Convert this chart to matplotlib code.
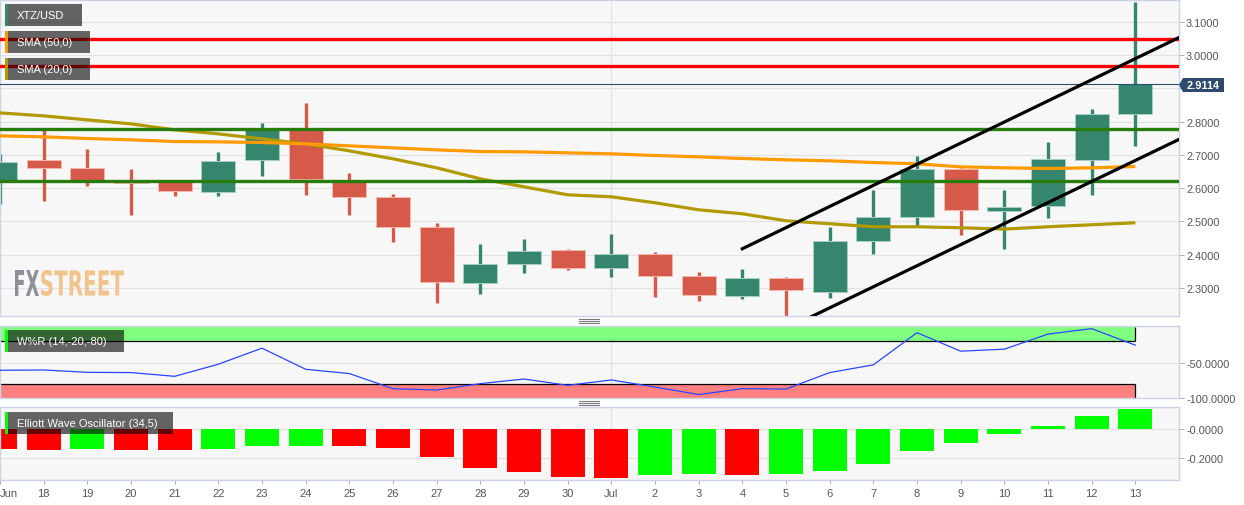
import matplotlib
matplotlib.use('Agg')
import matplotlib.pyplot as plt
import numpy as np
from matplotlib.patches import Rectangle, Polygon, PathPatch
from matplotlib.lines import Line2D
from matplotlib.textpath import TextPath
from matplotlib.font_manager import FontProperties
from matplotlib.transforms import Affine2D

plt.rcParams['font.family'] = ['Liberation Sans', 'DejaVu Sans']

# ---------------- data ----------------
date_labels = ['Jun', '18', '19', '20', '21', '22', '23', '24', '25', '26', '27', '28', '29', '30',
               'Jul', '2', '3', '4', '5', '6', '7', '8', '9', '10', '11', '12', '13']
opens = [2.619, 2.684, 2.660, 2.620, 2.622, 2.588, 2.684, 2.775, 2.619, 2.573, 2.483, 2.316, 2.371, 2.414,
         2.359, 2.401, 2.336, 2.275, 2.329, 2.287, 2.441, 2.514, 2.658, 2.532, 2.546, 2.685, 2.824]
highs = [2.703, 2.775, 2.717, 2.658, 2.625, 2.709, 2.796, 2.856, 2.646, 2.583, 2.495, 2.432, 2.447, 2.417,
         2.462, 2.408, 2.348, 2.358, 2.333, 2.483, 2.595, 2.697, 2.660, 2.595, 2.739, 2.838, 3.158]
lows = [2.552, 2.562, 2.605, 2.520, 2.575, 2.575, 2.635, 2.580, 2.520, 2.437, 2.256, 2.283, 2.346, 2.355,
        2.334, 2.274, 2.262, 2.268, 2.200, 2.271, 2.403, 2.487, 2.460, 2.418, 2.511, 2.580, 2.728]
closes = [2.679, 2.660, 2.618, 2.616, 2.591, 2.682, 2.778, 2.626, 2.573, 2.483, 2.317, 2.371, 2.412, 2.359,
          2.402, 2.336, 2.278, 2.329, 2.293, 2.441, 2.512, 2.658, 2.535, 2.544, 2.687, 2.823, 2.9114]
sma50 = [2.757, 2.754, 2.749, 2.745, 2.740, 2.739, 2.737, 2.733, 2.727, 2.721, 2.715, 2.710, 2.709, 2.706,
         2.703, 2.698, 2.694, 2.689, 2.685, 2.682, 2.677, 2.673, 2.664, 2.661, 2.659, 2.661, 2.665]
sma20 = [2.826, 2.817, 2.805, 2.793, 2.775, 2.763, 2.748, 2.733, 2.712, 2.688, 2.661, 2.628, 2.604, 2.580,
         2.574, 2.556, 2.535, 2.523, 2.502, 2.493, 2.484, 2.484, 2.481, 2.477, 2.484, 2.490, 2.496]
wr = [-61.0, -60.6, -63.9, -64.3, -69.6, -52.4, -29.6, -59.6, -65.7, -87.1, -89.1, -80.0, -73.4, -82.4,
      -74.8, -84.8, -95.5, -87.1, -87.7, -64.3, -53.3, -7.6, -33.9, -31.0, -9.6, -1.9, -25.3]
ewo = [-0.135, -0.146, -0.139, -0.142, -0.144, -0.137, -0.116, -0.114, -0.117, -0.128, -0.191, -0.264,
       -0.295, -0.328, -0.333, -0.311, -0.309, -0.315, -0.308, -0.286, -0.236, -0.151, -0.097, -0.036,
       0.018, 0.084, 0.133]
red_levels = [3.047, 2.967]
green_levels = [2.778, 2.622]
channel_x = [17.0, 27.5]
channel_upper = [2.418, 3.084]
channel_lower = [2.114, 2.778]
last_price = 2.9114
price_ticks = [2.3, 2.4, 2.5, 2.6, 2.7, 2.8, 2.9, 3.0, 3.1]
wr_ticks = [-50, -100]
wr_tick_labels = ['-50.0000', '-100.0000']
ewo_ticks = [0.0, -0.2]
ewo_tick_labels = ['-0.0000', '-0.2000']

# ---------------- styling ----------------
W, H = 1244, 506
BG = '#f7f7f7'
SPINE = '#ccd3e3'
GRID = '#e2e2e2'
TXT = '#555555'
C_UP = '#35856f'
C_DN = '#d55a49'
C_UP_E = '#a9cfc5'
C_DN_E = '#f2b8ae'

def fx(px):
    return px / W

def fy(py):
    return 1 - py / H

fig = plt.figure(figsize=(W / 100, H / 100), dpi=100, facecolor='white')

ax_main = fig.add_axes([0, fy(317), fx(1179), fy(1) - fy(317)])
ax_wr = fig.add_axes([0, fy(399), fx(1179), fy(326.5) - fy(399)])
ax_ewo = fig.add_axes([0, fy(480.5), fx(1179), fy(408.3) - fy(480.5)])

days = np.arange(len(opens))
for ax in (ax_main, ax_wr, ax_ewo):
    ax.set_facecolor(BG)
    for s in ax.spines.values():
        s.set_color(SPINE)
        s.set_linewidth(1.0)
    ax.set_xlim(0, 27.0)
    ax.yaxis.tick_right()
    ax.tick_params(axis='y', which='both', length=3.5, width=0.7, color='#aaaaaa',
                   labelcolor=TXT, labelsize=7.9, pad=1.6)
    ax.set_xticks(days)
    ax.tick_params(axis='x', length=0, labelbottom=False)
    ax.axvline(14, color=GRID, lw=0.8, zorder=0.5)

# ---------------- main panel ----------------
ax_main.set_ylim(2.216, 3.165)
ax_main.set_yticks(price_ticks)
ax_main.set_yticklabels(['' if abs(v - 2.9) < 1e-9 else f'{v:.4f}' for v in price_ticks])
for v in price_ticks:
    ax_main.axhline(v, color=GRID, lw=0.8, zorder=0.5)

o = np.array(opens); c = np.array(closes); hi = np.array(highs); lo = np.array(lows)
up = c >= o
col = np.where(up, C_UP, C_DN)
ecol = np.where(up, C_UP_E, C_DN_E)
ax_main.vlines(days, lo, hi, colors=col, lw=2.4, zorder=2)
ax_main.bar(days, np.abs(c - o), bottom=np.minimum(o, c), width=0.78, color=col,
            edgecolor=ecol, linewidth=0.7, zorder=3)

ax_main.plot(days, sma20, color='#b09a00', lw=2.3, zorder=4, solid_capstyle='butt')
ax_main.plot(days, sma50, color='#ff9a00', lw=2.3, zorder=4, solid_capstyle='butt')
for v in red_levels:
    ax_main.axhline(v, color='#ff0000', lw=2.4, zorder=5)
for v in green_levels:
    ax_main.axhline(v, color='#287d0a', lw=2.4, zorder=5)
ax_main.plot(channel_x, channel_upper, color='black', lw=2.3, zorder=6)
ax_main.plot(channel_x, channel_lower, color='black', lw=2.3, zorder=6)
ax_main.axhline(last_price, color='#2e4a6d', lw=0.8, zorder=5)

# ---------------- W%R panel ----------------
ax_wr.set_ylim(-100.4, 2.6)
ax_wr.set_yticks(wr_ticks)
ax_wr.set_yticklabels(wr_tick_labels)
ax_wr.axhline(-50, color=GRID, lw=0.8, zorder=0.5)
ax_wr.add_patch(Rectangle((0, -20), 26, 20, facecolor='#80ff80', edgecolor='none', zorder=1))
ax_wr.add_patch(Rectangle((0, -100.4), 26, 20.4, facecolor='#ff8080', edgecolor='none', zorder=1))
ax_wr.hlines([-20, -80], 0, 26, colors='black', lw=0.9, zorder=2)
ax_wr.vlines(26, -20, 0, colors='black', lw=0.9, zorder=2)
ax_wr.vlines(26, -100.4, -80, colors='black', lw=0.9, zorder=2)
ax_wr.plot(days, wr, color='#2a46ff', lw=0.9, zorder=3)

# ---------------- EWO panel ----------------
ax_ewo.set_ylim(-0.343, 0.145)
ax_ewo.set_yticks(ewo_ticks)
ax_ewo.set_yticklabels(ewo_tick_labels)
for v in ewo_ticks:
    ax_ewo.axhline(v, color=GRID, lw=0.8, zorder=0.5)
ev = np.array(ewo)
ecolors = ['#ff0000'] + ['#00ff00' if ev[i] >= ev[i - 1] else '#ff0000' for i in range(1, len(ev))]
ax_ewo.bar(days, ev, width=0.78, color=ecolors, zorder=2)
ax_ewo.tick_params(axis='x', length=3, width=0.7, color='#aaaaaa', labelbottom=True,
                   labelcolor=TXT, labelsize=8, pad=3)
ax_ewo.set_xticklabels(date_labels)
ax_ewo.get_xticklabels()[0].set_horizontalalignment('left')

# ---------------- legend boxes ----------------
def label_box(x0, y0, x1, y1, strip, text):
    fig.patches.append(Rectangle((fx(x0), fy(y1)), fx(x1) - fx(x0), fy(y0) - fy(y1),
                                 transform=fig.transFigure, facecolor='black', alpha=0.6,
                                 edgecolor='none', zorder=10))
    fig.patches.append(Rectangle((fx(x0), fy(y1)), fx(3), fy(y0) - fy(y1),
                                 transform=fig.transFigure, facecolor=strip,
                                 edgecolor='none', zorder=11))
    fig.text(fx(x0 + 12), fy((y0 + y1) / 2), text, color='white', fontsize=8,
             va='center', ha='left', zorder=12)

label_box(5, 5, 82, 27, C_UP, 'XTZ/USD')
label_box(5, 32, 90, 54, '#ff9a00', 'SMA (50,0)')
label_box(5, 59, 90, 81, '#b09a00', 'SMA (20,0)')
label_box(5, 331, 124, 353, '#00ff00', 'W%R (14,-20,-80)')
label_box(5, 413, 173, 435, '#00ff00', 'Elliott Wave Oscillator (34,5)')

# ---------------- price tag ----------------
tag = Polygon([(fx(1179), fy(86)), (fx(1183), fy(79)), (fx(1224), fy(79)),
               (fx(1224), fy(93)), (fx(1183), fy(93))], closed=True,
              transform=fig.transFigure, facecolor='#2e4a6d', edgecolor='none', zorder=10)
fig.patches.append(tag)
fig.text(fx(1203.5), fy(86), f'{last_price:.4f}', color='white', fontsize=7.9,
         fontweight='bold', ha='center', va='center', zorder=11)

# ---------------- panel separator handles ----------------
for base in (320.3, 402.4):
    for k in range(3):
        fig.lines.append(Line2D([fx(579), fx(599)], [fy(base + 2 * k)] * 2,
                                transform=fig.transFigure, color='#7a7a7a', lw=0.8))

# ---------------- watermark ----------------
fp = FontProperties(family='DejaVu Sans', weight='bold')
def wm(text, x0, x1, y0, y1, color):
    p = TextPath((0, 0), text, size=1, prop=fp)
    e = p.get_extents()
    sx = (fx(x1) - fx(x0)) / e.width
    sy = (fy(y0) - fy(y1)) / e.height
    tr = Affine2D().translate(-e.x0, -e.y0).scale(sx, sy).translate(fx(x0), fy(y1)) + fig.transFigure
    fig.patches.append(PathPatch(p, transform=tr, facecolor=color, edgecolor='none', zorder=9))

wm('FX', 15, 39, 271, 297, '#8e9099')
wm('STREET', 41, 124, 271, 297, '#f2c48d')

fig.savefig('out.png', dpi=100, facecolor='white')
